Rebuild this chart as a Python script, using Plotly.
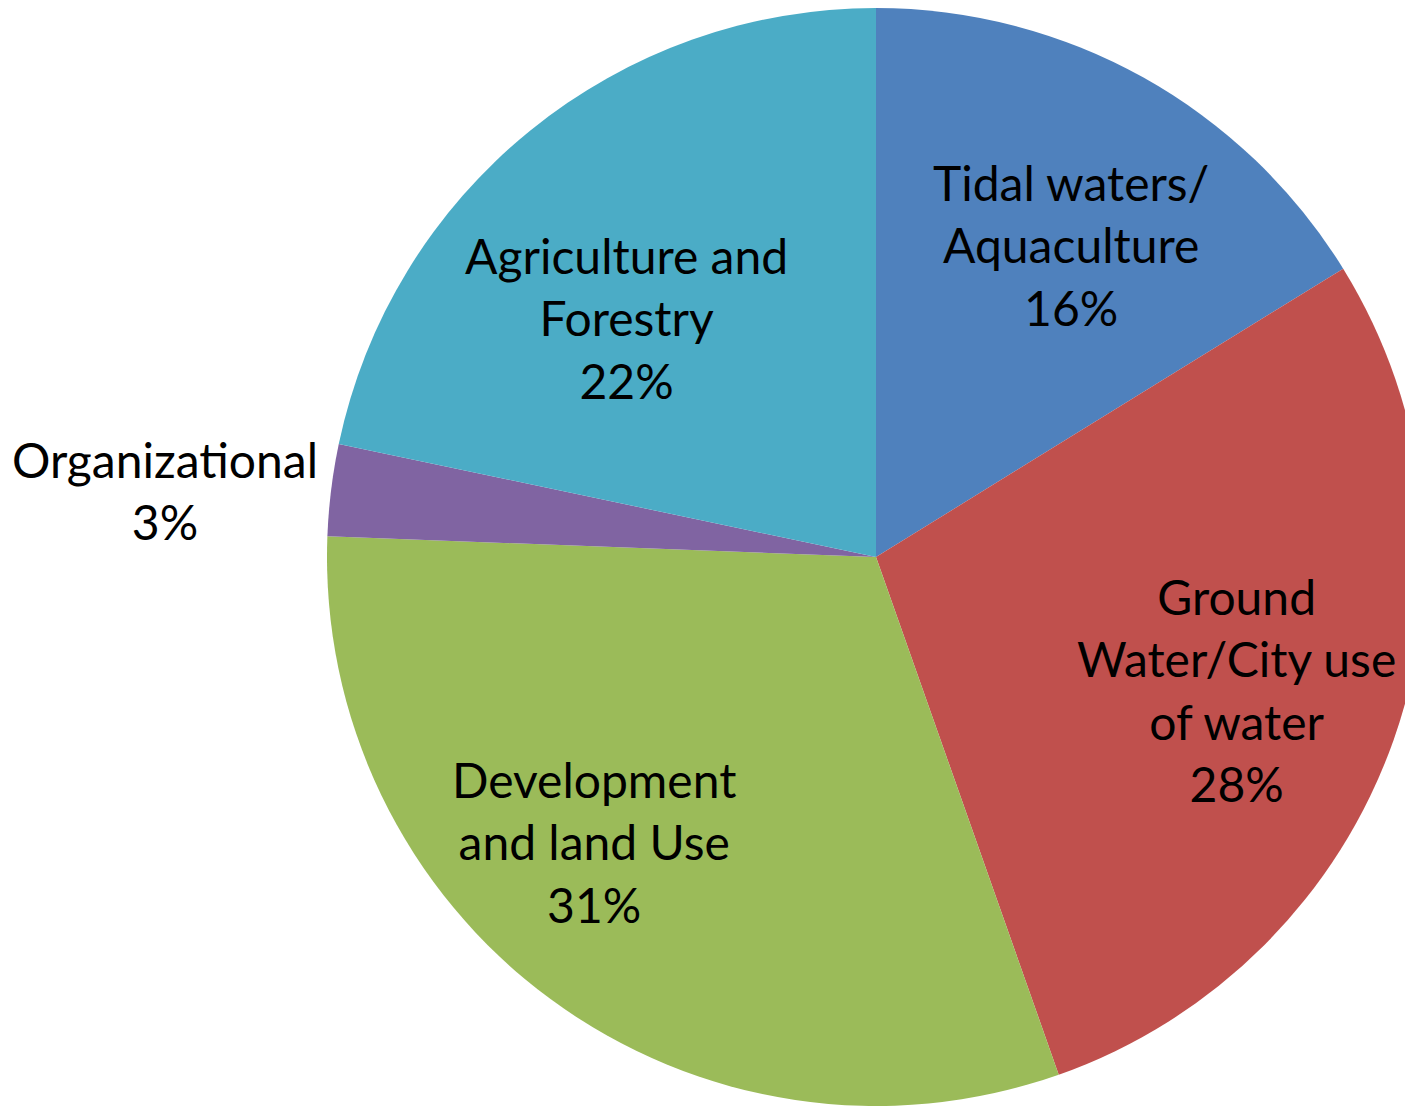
import math
import plotly.graph_objects as go

# Data
labels = ["Tidal waters/<br>Aquaculture", "Ground<br>Water/City use<br>of water",
          "Development<br>and land Use", "Organizational", "Agriculture and<br>Forestry"]
values = [16.2, 28.4, 31.0, 2.7, 21.7]

# Styles
colors = ["#4F81BD", "#C0504D", "#9BBB59", "#8064A2", "#4BACC6"]
label_radius = [0.67, 0.70, 0.73, 1.30, 0.63]      # fraction of pie radius
label_angle_shift = [2.8, 0.8, 8.3, -1.7, -7.2]     # degrees from slice middle

W, H = 1417, 1108
MB = 10
plot_w, plot_h = W, H - MB
x0 = 319 / W
cx = (x0 + 1) / 2 * plot_w
cy = plot_h / 2
R = min(plot_w * (1 - x0), plot_h) / 2

fig = go.Figure(go.Pie(
    labels=[l.replace("<br>", " ") for l in labels],
    values=values,
    sort=False,
    direction="clockwise",
    rotation=0,
    marker=dict(colors=colors, line=dict(width=0)),
    textinfo="none",
    domain=dict(x=[x0, 1.0], y=[0.0, 1.0]),
    showlegend=False,
    hoverinfo="label+percent",
))

total = sum(values)
cum = 0.0
annotations = []
for lab, v, fr, sh in zip(labels, values, label_radius, label_angle_shift):
    mid = (cum + v / 2) / total * 2 * math.pi + math.radians(sh)
    cum += v
    px = cx + fr * R * math.sin(mid)
    py = cy - fr * R * math.cos(mid)
    pct = round(v / total * 100)
    annotations.append(dict(
        x=px / plot_w, y=1 - py / plot_h, xref="paper", yref="paper",
        text=f"{lab}<br>{pct}%", showarrow=False, align="center",
        xanchor="center", yanchor="middle",
        font=dict(family="Lato, Open Sans, sans-serif", size=48, color="black"),
    ))

fig.update_layout(
    width=W, height=H,
    margin=dict(l=0, r=0, t=0, b=MB, pad=0),
    paper_bgcolor="white",
    plot_bgcolor="white",
    annotations=annotations,
)
fig.write_html("out.html")
